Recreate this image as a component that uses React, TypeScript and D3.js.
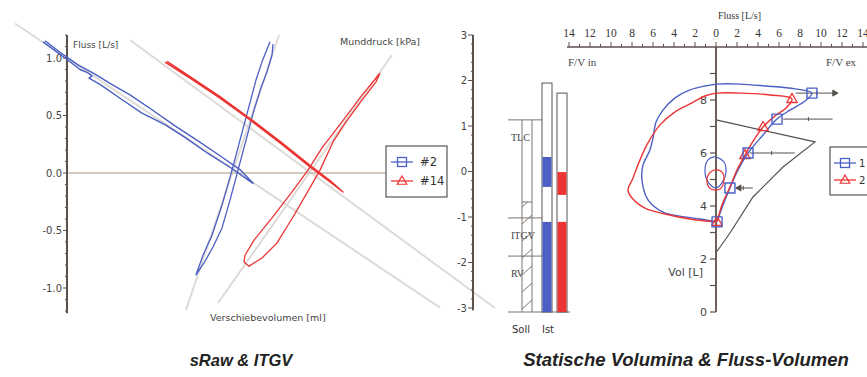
import * as d3 from 'd3'

type P = [number, number]

// ---------- sRaw & ITGV (x = Verschiebevolumen [ml]) ----------
const fluxTicks = [-1, -0.5, 0, 0.5, 1]
const pressTicks = [-3, -2, -1, 0, 1, 2, 3]

// Fluss [L/s]
const sRaw2: P[] = [
  [-227, 1.14], [-205, 1.0], [-190, 0.9], [-182, 0.87], [-178, 0.845], [-181, 0.825], [-170, 0.77],
  [-150, 0.65], [-128, 0.52], [-105, 0.42], [-85, 0.31], [-62, 0.17], [-40, 0.05], [-17, -0.09],
  [-30, 0.03], [-50, 0.15], [-72, 0.28], [-95, 0.41], [-118, 0.55], [-140, 0.68], [-160, 0.78],
  [-175, 0.86], [-192, 0.94], [-210, 1.05], [-225, 1.15],
]
const sRaw14: P[] = [
  [-105, 0.965], [-80, 0.826], [-50, 0.652], [-20, 0.461], [10, 0.261], [40, 0.052], [60, -0.078], [73, -0.165],
  [60, -0.065], [40, 0.066], [10, 0.275], [-20, 0.474], [-50, 0.665], [-80, 0.838], [-103, 0.97],
]
// Munddruck [kPa]
const itgv2: P[] = [
  [0, 2.85], [-8, 2.41], [-14, 2.01], [-22, 1.35], [-30, 0.69], [-38, 0.03], [-48, -0.74],
  [-58, -1.4], [-67, -1.84], [-74, -2.27], [-66, -2.01], [-57, -1.66], [-48, -1.24], [-40, -0.63],
  [-32, 0.03], [-24, 0.69], [-16, 1.35], [-9, 1.84], [-3, 2.19], [2, 2.56], [3, 2.8],
]
const itgv14: P[] = [
  [110, 2.16], [92, 1.68], [72, 1.09], [52, 0.52], [38, 0.03], [22, -0.45], [2, -1.02], [-16, -1.51],
  [-25, -1.84], [-26, -1.99], [-21, -2.08], [-8, -1.9], [7, -1.57], [23, -1.0], [37, -0.47], [50, 0.03],
  [63, 0.65], [76, 1.09], [92, 1.57], [106, 1.97], [110, 2.16],
]
const sRawFit2: P[] = [[-255, 1.3], [170, -1.17]]
const sRawFit14: P[] = [[-140, 1.157], [225, -1.174]]
const itgvFit2: P[] = [[9, 3.0], [-84, -3.04]]
const itgvFit14: P[] = [[122, 2.56], [-52, -2.89]]

// ---------- Statische Volumina (Vol [L]) ----------
const sollLabels = ['TLC', 'ITGV', 'RV']
const sollLevels = [7.25, 3.55, 2.11]
const sollHatchTop = 4.15
const istTop = [8.64, 8.26]
const istFill2: P[] = [[0, 3.4], [4.72, 5.85]]
const istFill14: P[] = [[0, 3.4], [4.42, 5.28]]

// ---------- Fluss-Volumen (x = Fluss [L/s], y = Vol [L]) ----------
const flowTicks = d3.range(-14, 15, 2)
const volTicks = [0, 2, 4, 6, 8]
const fv2: P[] = [
  [0.1, 3.4], [-1.52, 3.51], [-3.43, 3.62], [-5.05, 3.77], [-6.48, 4.23], [-7.05, 4.98], [-6.95, 5.55],
  [-6.29, 6.11], [-6.0, 6.57], [-5.71, 7.17], [-5.05, 7.62], [-3.9, 8.08], [-2.48, 8.38], [-1.05, 8.53],
  [0.1, 8.6], [2.29, 8.6], [4.67, 8.53], [7.52, 8.42], [9.14, 8.26], [8.48, 7.96], [7.05, 7.62],
  [5.81, 7.28], [4.48, 6.68], [3.05, 6.0], [2.1, 5.36], [1.33, 4.68], [0.67, 4.04], [0.1, 3.4],
]
const fv14: P[] = [
  [0.1, 3.4], [-2.48, 3.51], [-4.86, 3.7], [-6.76, 3.92], [-8.0, 4.3], [-8.38, 4.6], [-7.9, 5.06],
  [-7.24, 5.74], [-6.48, 6.38], [-5.33, 7.06], [-3.9, 7.55], [-2.48, 7.85], [-1.05, 8.15], [0.1, 8.26],
  [2.29, 8.26], [5.14, 8.19], [7.24, 8.04], [6.67, 7.7], [5.62, 7.4], [4.48, 6.98], [3.43, 6.38],
  [2.76, 5.92], [2.0, 5.36], [1.33, 4.72], [0.57, 4.04], [0.1, 3.4],
]
const tidal2: P[] = [[-0.1, 5.85], [0.76, 5.66], [0.95, 5.28], [0.57, 4.87], [0, 4.68], [-0.76, 4.91], [-1.05, 5.36], [-0.76, 5.74]]
const tidal14: P[] = [[-0.67, 5.21], [0, 5.36], [0.57, 5.28], [0.76, 4.98], [0.38, 4.64], [-0.48, 4.64], [-0.86, 4.91]]
const marks2: P[] = [[9.14, 8.26], [5.81, 7.28], [3.05, 6.0], [1.33, 4.68], [0.1, 3.4]]
const marks14: P[] = [[7.24, 8.04], [4.48, 6.98], [2.76, 5.92], [0.1, 3.4]]
const sollCurve: P[] = [[0, 7.25], [9.43, 6.42], [6.38, 5.47], [3.52, 4.34], [1.33, 2.98], [0.19, 2.34], [0, 2.26]]
// predicted ranges: [vol, from, to, predicted]
const sollRanges = [
  [8.26, 7.6, 11.6, 9.6],
  [7.28, 6.4, 11.1, 8.8],
  [6.0, 3.2, 7.5, 5.3],
  [4.68, 1.9, 3.5, 2.6],
]

const BLUE = '#4b5fc4'
const RED = '#ec3434'
const AXIS = '#5b514b'
const SANS = 'DejaVu Sans, Verdana, sans-serif'
const SERIF = 'Liberation Serif, serif'

export default function App() {
  const xV = d3.scaleLinear().domain([-203, 203]).range([67, 473])
  const yF = d3.scaleLinear().domain([-1, 1]).range([288, 58])
  const yP = d3.scaleLinear().domain([-3, 3]).range([308, 35])
  const xFl = d3.scaleLinear().domain([-14, 14]).range([569, 863])
  const yVol = d3.scaleLinear().domain([0, 10]).range([312, 47])

  const flowLine = d3.line<P>().x(d => xV(d[0])).y(d => yF(d[1]))
  const pressLine = d3.line<P>().x(d => xV(d[0])).y(d => yP(d[1]))
  const fvLine = d3.line<P>().x(d => xFl(d[0])).y(d => yVol(d[1])).curve(d3.curveCatmullRom)
  const fvClosed = d3.line<P>().x(d => xFl(d[0])).y(d => yVol(d[1])).curve(d3.curveCatmullRomClosed)
  const fvStraight = d3.line<P>().x(d => xFl(d[0])).y(d => yVol(d[1]))

  const x0 = xV.range()[0]
  const x1 = xV.range()[1]
  const vx = xFl(0)

  // bar layout
  const sollX = [522, 532]
  const istX = [[542, 552], [557, 567]]
  const istColors = [BLUE, RED]
  const istFills = [istFill2, istFill14]
  const hatchTopY = yVol(sollHatchTop)

  const tri = (cx: number, cy: number, r: number) =>
    `M${cx},${cy - r}L${cx + r * 0.95},${cy + r * 0.65}L${cx - r * 0.95},${cy + r * 0.65}Z`

  return (
    <svg width={867} height={377} style={{ position: 'absolute', left: 0, top: 0, background: '#fff' }}
      fontFamily={SANS}>
      <defs>
        <clipPath id="hatchClip">
          <rect x={sollX[0]} y={hatchTopY} width={sollX[1] - sollX[0]} height={yVol(0) - hatchTopY} />
        </clipPath>
      </defs>

      {/* ---------- sRaw & ITGV ---------- */}
      <g fill="none" stroke="#dedad7" strokeWidth={2}>
        <path d={flowLine(sRawFit2)!} />
        <path d={flowLine(sRawFit14)!} />
        <path d={pressLine(itgvFit2)!} />
        <path d={pressLine(itgvFit14)!} />
      </g>
      <line x1={x0} x2={386} y1={yF(0)} y2={yF(0)} stroke="#c9b9aa" strokeWidth={1.5} />

      {/* Fluss axis */}
      <g stroke={AXIS}>
        <line x1={x0} x2={x0} y1={yF(1.2)} y2={yF(-1.22)} strokeWidth={2} />
        {d3.range(-12, 13).map(i => (
          <line key={i} x1={x0 - (i % 5 === 0 ? 4 : 2)} x2={x0} y1={yF(i / 10)} y2={yF(i / 10)} strokeWidth={1} />
        ))}
      </g>
      {fluxTicks.map(t => (
        <text key={t} x={x0 - 5} y={yF(t)} dy="0.35em" textAnchor="end" fontSize={10} fill="#444">
          {t.toFixed(1)}
        </text>
      ))}
      <text x={73} y={48} fontSize={9} fill="#444">Fluss [L/s]</text>

      {/* Munddruck axis */}
      <g stroke={AXIS}>
        <line x1={x1} x2={x1} y1={yP(3)} y2={yP(-3.05)} strokeWidth={2} />
        {d3.range(-15, 16).map(i => (
          <line key={i} x1={x1 - (i % 5 === 0 ? 5 : 2)} x2={x1} y1={yP(i / 5)} y2={yP(i / 5)} strokeWidth={1} />
        ))}
      </g>
      {pressTicks.map(t => (
        <text key={t} x={x1 - 6} y={yP(t)} dy="0.35em" textAnchor="end" fontSize={10} fill="#444">{t}</text>
      ))}
      <text x={420} y={45} textAnchor="end" fontSize={9.5} fill="#444">Munddruck [kPa]</text>
      <text x={210} y={321} fontSize={9.5} fill="#444">Verschiebevolumen [ml]</text>

      <g fill="none" strokeLinejoin="round">
        <path d={flowLine(sRaw2)!} stroke={BLUE} strokeWidth={1.4} />
        <path d={pressLine(itgv2)!} stroke={BLUE} strokeWidth={1.3} />
        <path d={pressLine(itgv14)!} stroke={RED} strokeWidth={1.3} />
        <path d={flowLine(sRaw14)!} stroke={RED} strokeWidth={1.5} />
      </g>

      {/* left legend */}
      <rect x={386} y={146} width={61} height={51} fill="#fff" stroke="#555" strokeWidth={1.2} />
      <line x1={391} x2={413} y1={162} y2={162} stroke={BLUE} strokeWidth={1.3} />
      <rect x={397.5} y={157.5} width={9} height={9} fill="none" stroke={BLUE} strokeWidth={1.3} />
      <text x={420} y={162} dy="0.35em" fontSize={11.5} fill="#333">#2</text>
      <line x1={391} x2={413} y1={181} y2={181} stroke={RED} strokeWidth={1.3} />
      <path d={tri(402, 181, 5)} fill="none" stroke={RED} strokeWidth={1.2} />
      <text x={420} y={181} dy="0.35em" fontSize={11.5} fill="#333">#14</text>

      {/* ---------- Statische Volumina ---------- */}
      <g stroke="#7a7470" strokeWidth={1}>
        {sollLevels.map(v => (
          <line key={v} x1={508} x2={istX[0][0]} y1={yVol(v)} y2={yVol(v)} />
        ))}
        <line x1={508} x2={570} y1={yVol(0)} y2={yVol(0)} />
        <line x1={sollX[0]} x2={sollX[0]} y1={yVol(sollLevels[0])} y2={yVol(0)} />
        <line x1={sollX[1]} x2={sollX[1]} y1={yVol(sollLevels[0])} y2={yVol(0)} />
        <line x1={sollX[0]} x2={sollX[1]} y1={hatchTopY} y2={hatchTopY} />
        <g clipPath="url(#hatchClip)">
          {d3.range(hatchTopY - 4, yVol(0) + 10, 17).map(y => (
            <line key={y} x1={sollX[0]} x2={sollX[1]} y1={y + 9} y2={y} />
          ))}
        </g>
      </g>
      {sollLabels.map((l, i) => (
        <text key={l} x={511} y={yVol(sollLevels[i]) + 21} fontSize={10} fontFamily={SERIF} fill="#444">{l}</text>
      ))}
      {istTop.map((top, i) => (
        <g key={i}>
          <rect x={istX[i][0]} y={yVol(top)} width={istX[i][1] - istX[i][0]} height={yVol(0) - yVol(top)}
            fill="#fff" stroke="#555" strokeWidth={1} />
          {istFills[i].map(([a, b]) => (
            <rect key={a} x={istX[i][0] + 0.5} y={yVol(b)} width={istX[i][1] - istX[i][0] - 1}
              height={yVol(a) - yVol(b)} fill={istColors[i]} />
          ))}
        </g>
      ))}
      <text x={521} y={333} textAnchor="middle" fontSize={10} fill="#333">Soll</text>
      <text x={548} y={333} textAnchor="middle" fontSize={10} fill="#333">Ist</text>

      {/* ---------- Fluss-Volumen ---------- */}
      <g stroke={AXIS}>
        <line x1={567} x2={867} y1={yVol(10)} y2={yVol(10)} strokeWidth={1.5} />
        {d3.range(-14, 15).map(t => (
          <line key={t} x1={xFl(t)} x2={xFl(t)} y1={yVol(10)} y2={yVol(10) - (t % 2 === 0 ? 5 : 3)} strokeWidth={1} />
        ))}
        <line x1={vx} x2={vx} y1={yVol(10)} y2={yVol(0)} strokeWidth={1.8} />
        {d3.range(0, 10).map(v => (
          <line key={v} x1={vx - 6} x2={vx} y1={yVol(v)} y2={yVol(v)} strokeWidth={1.2} />
        ))}
      </g>
      {flowTicks.map(t => (
        <text key={t} x={xFl(t)} y={37} textAnchor="middle" fontSize={11.5} fontFamily={SERIF} fill="#333">
          {Math.abs(t)}
        </text>
      ))}
      {volTicks.map(v => (
        <text key={v} x={vx - 9} y={yVol(v)} dy="0.35em" textAnchor="end" fontSize={11} fill="#444">{v}</text>
      ))}
      <text x={718} y={19} fontSize={10} fontFamily={SERIF} fill="#333">Fluss [L/s]</text>
      <text x={568} y={66} fontSize={11} fontFamily={SERIF} fill="#444">F/V in</text>
      <text x={826} y={66} fontSize={11} fontFamily={SERIF} fill="#444">F/V ex</text>
      <text x={703} y={276} textAnchor="end" fontSize={11} fill="#444">Vol [L]</text>

      <path d={fvStraight(sollCurve)!} fill="none" stroke="#55504c" strokeWidth={1.2} />
      <g stroke="#55504c" strokeWidth={1} fill="#55504c">
        {sollRanges.map(([v, a, b, p], i) => (
          <g key={i}>
            <line x1={xFl(a)} x2={xFl(b)} y1={yVol(v)} y2={yVol(v)} />
            <line x1={xFl(p)} x2={xFl(p)} y1={yVol(v) - 2} y2={yVol(v) + 2} />
            {i === 0 && <path d={`M${xFl(b)},${yVol(v)}l-5,-3v6Z`} />}
            {i === 3 && <path d={`M${xFl(a)},${yVol(v)}l5,-3v6Z`} />}
          </g>
        ))}
      </g>

      <g fill="none" strokeLinejoin="round">
        <path d={fvLine(fv2)!} stroke={BLUE} strokeWidth={1.4} />
        <path d={fvLine(fv14)!} stroke={RED} strokeWidth={1.4} />
        <path d={fvClosed(tidal2)!} stroke={BLUE} strokeWidth={1.2} />
        <path d={fvClosed(tidal14)!} stroke={RED} strokeWidth={1.2} />
        {marks14.map((d, i) => (
          <path key={i} d={tri(xFl(d[0]), yVol(d[1]), 5.5)} stroke={RED} strokeWidth={1.3} />
        ))}
        {marks2.map((d, i) => (
          <rect key={i} x={xFl(d[0]) - 5} y={yVol(d[1]) - 5} width={10} height={10} stroke={BLUE} strokeWidth={1.4} />
        ))}
      </g>

      {/* right legend */}
      <rect x={830} y={147} width={60} height={48} fill="#fff" stroke="#555" strokeWidth={1.2} />
      <line x1={834} x2={856} y1={163} y2={163} stroke={BLUE} strokeWidth={1.3} />
      <rect x={840.5} y={158.5} width={9} height={9} fill="none" stroke={BLUE} strokeWidth={1.3} />
      <text x={859} y={163} dy="0.35em" fontSize={10} fill="#333">1</text>
      <line x1={834} x2={856} y1={180} y2={180} stroke={RED} strokeWidth={1.3} />
      <path d={tri(845, 180, 5)} fill="none" stroke={RED} strokeWidth={1.2} />
      <text x={859} y={180} dy="0.35em" fontSize={10} fill="#333">2</text>

      {/* titles */}
      <g fontFamily="Liberation Sans, Arial, sans-serif" fontWeight="bold" fontStyle="italic" fill="#222">
        <text x={241} y={366} textAnchor="middle" fontSize={16.5}>sRaw &amp; ITGV</text>
        <text x={686} y={366} textAnchor="middle" fontSize={18.5}>Statische Volumina &amp; Fluss-Volumen</text>
      </g>
    </svg>
  )
}
